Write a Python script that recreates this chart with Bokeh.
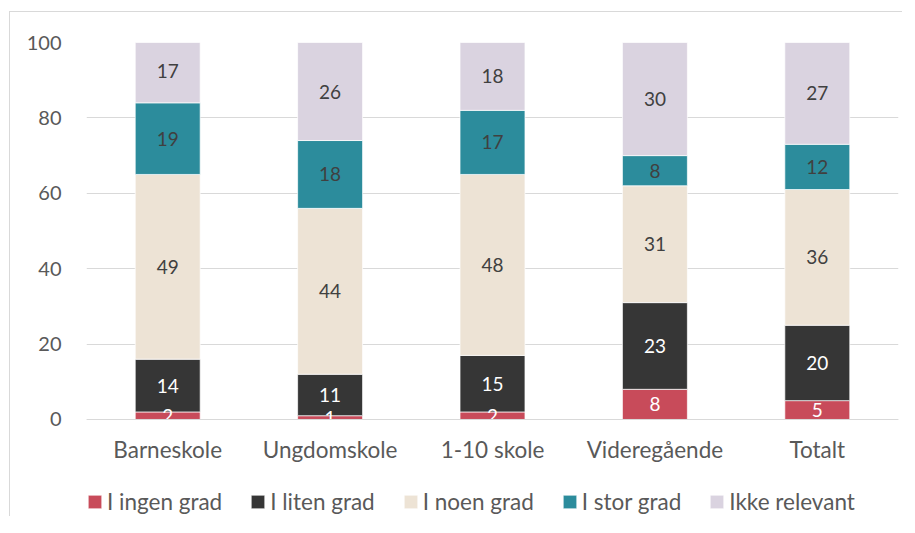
from bokeh.plotting import figure
from bokeh.models import (ColumnDataSource, FactorRange, FixedTicker, Legend, LegendItem)
from bokeh.core.properties import value
from bokeh.embed import file_html
from bokeh.resources import INLINE

categories = ["Barneskole", "Ungdomskole", "1-10 skole", "Videregående", "Totalt"]
series = ["I ingen grad", "I liten grad", "I noen grad", "I stor grad", "Ikke relevant"]
ingen = [2, 1, 2, 8, 5]
liten = [14, 11, 15, 23, 20]
noen = [49, 44, 48, 31, 36]
stor = [19, 18, 17, 8, 12]
ikke = [17, 26, 18, 30, 27]
colors = ["#C84B5A", "#363636", "#EDE3D5", "#2C8C9C", "#DAD3E0"]
label_colors = ["white", "white", "#404040", "#404040", "#404040"]
y_ticks = [0, 20, 40, 60, 80, 100]

FONT = "Lato"
values_list = [ingen, liten, noen, stor, ikke]
keys = ["s0", "s1", "s2", "s3", "s4"]
data = {"cat": categories}
for k, v in zip(keys, values_list):
    data[k] = v
src = ColumnDataSource(data)

# frame extends below the zero line to host the category labels and legend
p = figure(x_range=FactorRange(*categories, range_padding=0), y_range=(-26, 100),
           width=893, height=505, output_backend="svg", toolbar_location=None,
           min_border_left=76, min_border_right=5, min_border_top=30, min_border_bottom=0,
           styles={"border-left": "1px solid #d9d9d9", "border-top": "1px solid #d9d9d9"},
           margin=(11, 0, 0, 9))
p.outline_line_color = None
p.background_fill_color = "white"

renderers = p.vbar_stack(keys, x="cat", width=0.4, source=src, color=colors,
                         line_color="white", line_width=0.7)

# labels
for i, (k, v) in enumerate(zip(keys, values_list)):
    base = [sum(values_list[j][c] for j in range(i)) for c in range(len(categories))]
    mids = [b + val / 2 for b, val in zip(base, v)]
    lsrc = ColumnDataSource(dict(cat=categories, y=mids, t=[str(x) for x in v]))
    p.text(x="cat", y="y", text="t", source=lsrc, text_align="center", text_baseline="middle",
           text_font=value(FONT), text_font_size="19px", text_color=label_colors[i])

p.xgrid.grid_line_color = None
p.ygrid.grid_line_color = "#d9d9d9"
p.ygrid.grid_line_width = 1
p.yaxis.ticker = FixedTicker(ticks=y_ticks)
p.yaxis.axis_line_color = None
p.yaxis.major_tick_line_color = None
p.yaxis.minor_tick_line_color = None
p.yaxis.major_label_text_font = FONT
p.yaxis.major_label_text_font_size = "20px"
p.yaxis.major_label_text_color = "#595959"
p.yaxis.major_label_standoff = 19

p.xaxis.fixed_location = 0
p.xaxis.axis_line_color = "#d9d9d9"
p.xaxis.major_tick_line_color = None
p.xaxis.minor_tick_line_color = None
p.xaxis.major_tick_out = 0
p.xaxis.major_label_text_font = FONT
p.xaxis.major_label_text_font_size = "22.5px"
p.xaxis.major_label_text_color = "#595959"
p.xaxis.major_label_standoff = 17

items = [LegendItem(label=s, renderers=[r]) for s, r in zip(series, renderers)]
legend = Legend(items=items, orientation="horizontal", location=(0, 2),
                glyph_width=17, glyph_height=17, label_standoff=4, spacing=27,
                padding=0, margin=0, border_line_alpha=0, background_fill_alpha=0,
                label_text_font=FONT, label_text_font_size="22.5px", label_text_color="#595959")
p.add_layout(legend, "center")

open("out.html", "w").write(file_html(p, INLINE))
